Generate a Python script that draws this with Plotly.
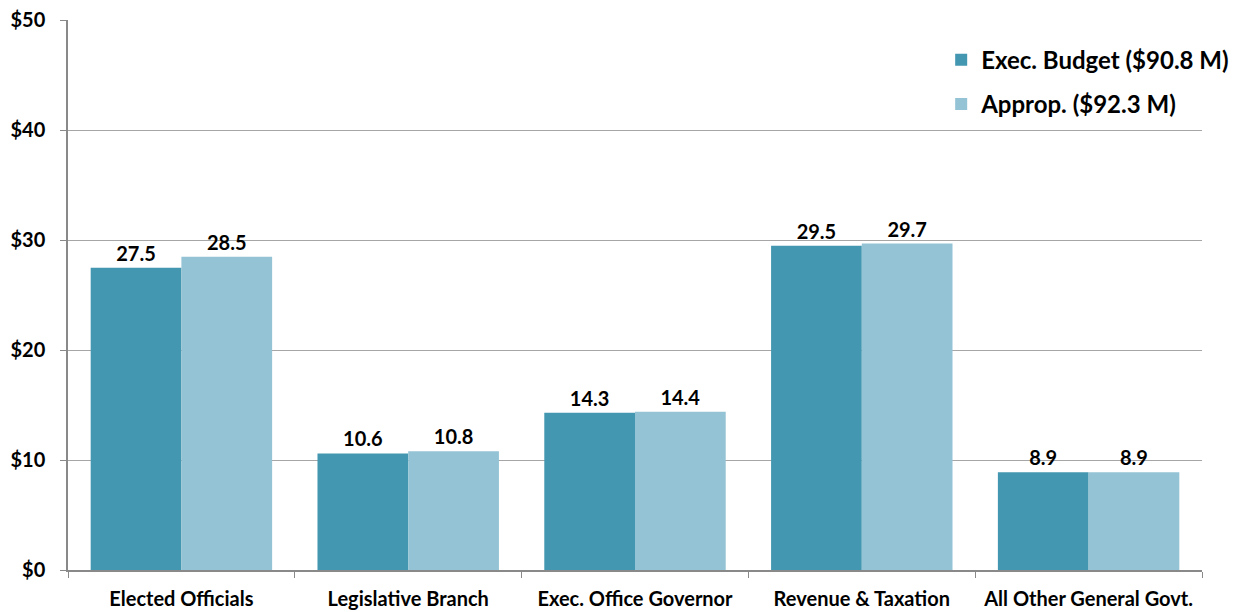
import plotly.graph_objects as go

categories = ["Elected Officials", "Legislative Branch", "Exec. Office Governor",
              "Revenue & Taxation", "All Other General Govt."]
exec_budget = [27.5, 10.6, 14.3, 29.5, 8.9]
approp = [28.5, 10.8, 14.4, 29.7, 8.9]
series_names = ["Exec. Budget ($90.8 M)", "Approp. ($92.3 M)"]
y_ticks = [0, 10, 20, 30, 40, 50]
y_tick_labels = ["$" + str(v) for v in y_ticks]

font_family = "Lato, Open Sans, sans-serif"
grid_color = "#A6A6A6"
axis_color = "#898989"

label_font = dict(size=20, color="black", family=font_family, weight="bold")

fig = go.Figure()
fig.add_trace(go.Bar(
    x=categories, y=exec_budget, name=series_names[0], legendgroup="a",
    marker_color="#4397B0", marker_line_width=0,
    texttemplate="%{y:.1f}", textposition="outside", textfont=label_font,
    cliponaxis=False,
))
fig.add_trace(go.Bar(
    x=categories, y=approp, name=series_names[1], legendgroup="b",
    marker_color="#93C3D4", marker_line_width=0,
    texttemplate="%{y:.1f}", textposition="outside", textfont=label_font,
    cliponaxis=False,
))

# page body has an 8px margin, so margins are shifted to compensate
fig.update_layout(
    width=1242, height=612,
    barmode="group", bargap=0.2, bargroupgap=0,
    plot_bgcolor="white", paper_bgcolor="white",
    margin=dict(l=60, r=48, t=12, b=50),
    font=dict(family=font_family, size=20, color="black", weight="bold"),
    legend=dict(x=0.77, y=0.968, xanchor="left", yanchor="top",
                font=dict(size=24, weight="bold"), tracegroupgap=10,
                bgcolor="rgba(0,0,0,0)"),
)
fig.update_xaxes(
    type="category", tickson="boundaries", ticks="outside", ticklen=6,
    tickcolor=axis_color, showline=True, linecolor=axis_color, linewidth=1.5,
    tickfont=dict(size=20, weight="bold"), tickangle=0, showgrid=False,
    automargin=False, ticklabelstandoff=10,
)
fig.update_yaxes(
    range=[0, 50.03], tickvals=y_ticks, ticktext=y_tick_labels,
    ticks="outside", ticklen=6, ticklabeloverflow="allow",
    tickcolor=axis_color, showline=True, linecolor=axis_color, linewidth=1.5,
    showgrid=True, gridcolor=grid_color, gridwidth=1.2, zeroline=False,
    tickfont=dict(size=20, weight="bold"), ticklabelstandoff=11, automargin=False,
)

fig.write_html("out.html")
